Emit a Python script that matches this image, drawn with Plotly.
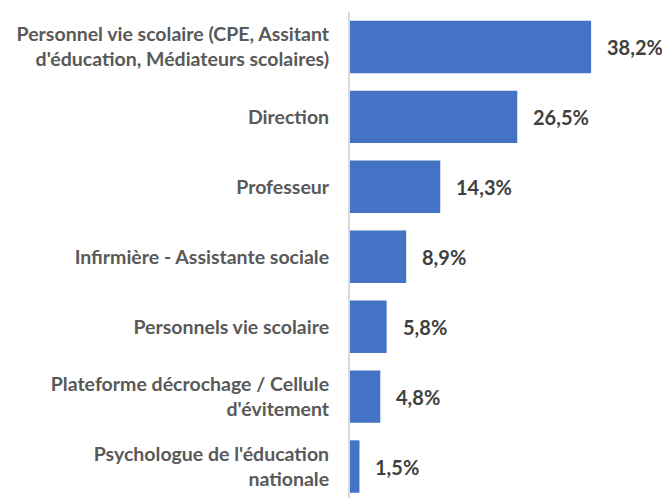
import plotly.graph_objects as go

categories = [
    "Personnel vie scolaire (CPE, Assitant<br>d'éducation, Médiateurs scolaires)",
    "Direction",
    "Professeur",
    "Infirmière - Assistante sociale",
    "Personnels vie scolaire",
    "Plateforme décrochage / Cellule<br>d'évitement",
    "Psychologue de l'éducation<br>nationale",
]
values = [38.2, 26.5, 14.3, 8.9, 5.8, 4.8, 1.5]

fig = go.Figure()
fig.add_trace(go.Bar(
    x=values, y=categories, orientation="h",
    marker=dict(color="#4472C4", line=dict(width=0)),
    width=0.75,
))

for v, c in zip(values, categories):
    fig.add_annotation(
        x=v, y=c, text=f"{v:.1f}%".replace(".", ","),
        showarrow=False, xanchor="left", xshift=14,
        font=dict(family="Lato", size=20, color="#404040", weight="bold"),
    )

fig.update_layout(
    width=662, height=490,
    margin=dict(l=342, r=0, t=4, b=0, autoexpand=False),
    plot_bgcolor="white", paper_bgcolor="white",
    showlegend=False,
    xaxis=dict(range=[0, 50.7], visible=False, automargin=False),
    yaxis=dict(
        autorange=False, range=[6.45, -0.5], type="category", automargin=False,
        showline=True, linecolor="#D9D9D9", linewidth=2,
        ticks="", ticklabelstandoff=15,
        tickfont=dict(family="Lato", size=19.5, color="#595959", weight="bold"),
    ),
)

fig.write_html("out.html")
